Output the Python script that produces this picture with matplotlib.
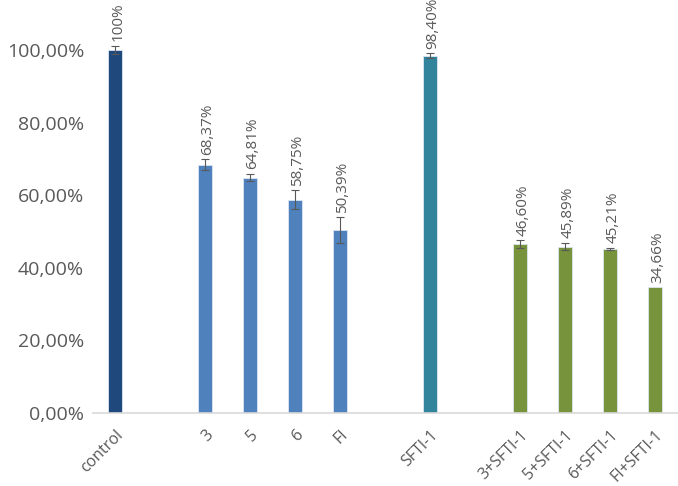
import matplotlib
matplotlib.use("Agg")
import matplotlib.pyplot as plt
from matplotlib.ticker import FuncFormatter

# data (percent of control)
categories = ["control", "", "3", "5", "6", "FI", "", "SFTI-1", "",
              "3+SFTI-1", "5+SFTI-1", "6+SFTI-1", "FI+SFTI-1"]
values = [100.0, None, 68.37, 64.81, 58.75, 50.39, None, 98.40, None,
          46.60, 45.89, 45.21, 34.66]
errors = [1.2, None, 1.5, 1.0, 2.6, 3.5, None, 0.7, None,
          1.0, 1.0, 0.4, 0.0]
labels = ["100%", "", "68,37%", "64,81%", "58,75%", "50,39%", "", "98,40%", "",
          "46,60%", "45,89%", "45,21%", "34,66%"]
colors = ["#1F497D", None, "#4F81BD", "#4F81BD", "#4F81BD", "#4F81BD", None,
          "#31849B", None, "#77933C", "#77933C", "#77933C", "#77933C"]

plt.rcParams['font.family'] = ['Open Sans', 'DejaVu Sans']
txt = "#595959"

fig = plt.figure(figsize=(6.78, 4.86), dpi=100)
ax = fig.add_axes([0.1365, 0.150, 0.863, 0.850])

for i, v in enumerate(values):
    if v is None:
        continue
    ax.bar(i, v, width=0.31, color=colors[i], edgecolor="#DCE6F2", linewidth=0.6, zorder=2)
    if errors[i] > 0:
        ax.errorbar(i, v, yerr=errors[i], ecolor="#595959", elinewidth=0.8,
                    capsize=3, capthick=0.8, fmt="none", zorder=3)
    ax.text(i + 0.06, v + errors[i] + 1.3, labels[i], rotation=90, ha="center", va="bottom",
            fontsize=11, color=txt)

ax.set_xlim(-0.5, 12.5)
ax.set_ylim(0, 113.8)
ax.set_yticks([0, 20, 40, 60, 80, 100])
ax.yaxis.set_major_formatter(FuncFormatter(lambda y, p: ("%.2f%%" % y).replace(".", ",")))
ax.set_xticks(range(len(categories)))
ax.set_xticklabels(categories, rotation=45, ha="right", rotation_mode="anchor")

for s in ["top", "right", "left"]:
    ax.spines[s].set_visible(False)
ax.spines["bottom"].set_color("#D9D9D9")
ax.spines["bottom"].set_linewidth(1.2)
ax.tick_params(axis="both", length=0, colors=txt)
ax.tick_params(axis="y", labelsize=14, pad=6)
ax.tick_params(axis="x", labelsize=11.5, pad=10)

fig.savefig("out.png", dpi=100)
